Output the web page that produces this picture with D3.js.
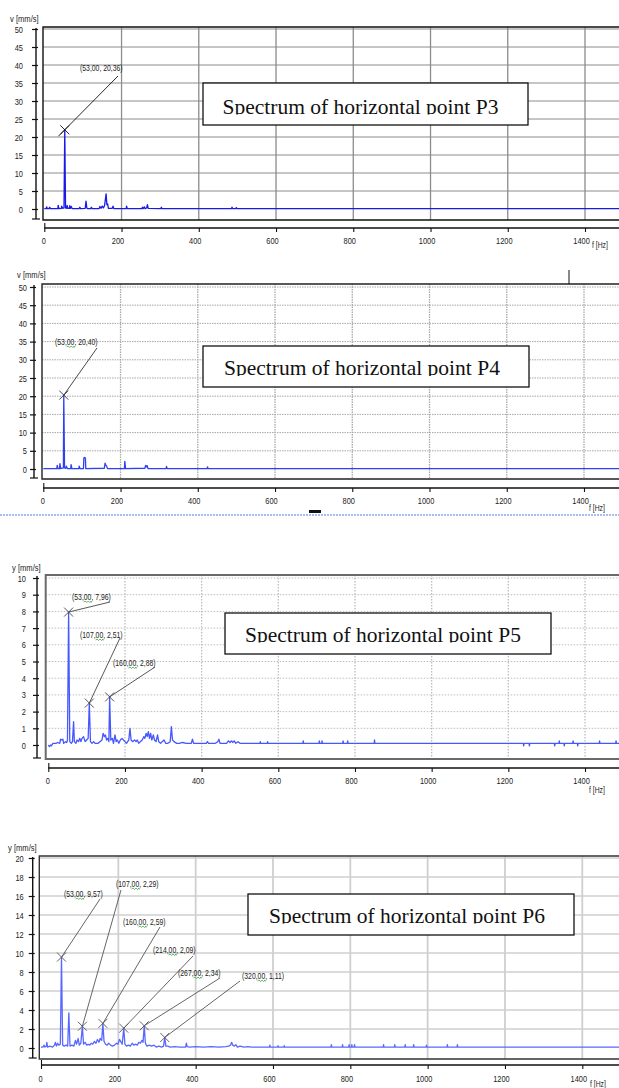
<!DOCTYPE html>
<html>
<head>
<meta charset="utf-8">
<script src="https://cdn.jsdelivr.net/npm/d3@7"></script>
<style>
  body { margin: 0; background: #fff; }
  svg { display: block; }
  .small { font-family: 'Liberation Sans Narrow', 'Liberation Sans', sans-serif; fill: #222; }
  .title { font-family: 'Liberation Serif', 'Times New Roman', serif; font-size: 21.5px; fill: #111; }
</style>
</head>
<body>
<script>
// ---- data ----
const xTicks = [0, 200, 400, 600, 800, 1000, 1200, 1400];
const yTicksP3 = [0, 5, 10, 15, 20, 25, 30, 35, 40, 45, 50];
const yTicksP4 = [0, 5, 10, 15, 20, 25, 30, 35, 40, 45, 50];
const yTicksP5 = [0, 1, 2, 3, 4, 5, 6, 7, 8, 9, 10];
const yTicksP6 = [0, 2, 4, 6, 8, 10, 12, 14, 16, 18, 20];

const titles = ["Spectrum of horizontal point P3", "Spectrum of horizontal point P4",
                "Spectrum of horizontal point P5", "Spectrum of horizontal point P6"];
const unitLabels = ["v [mm/s]", "v [mm/s]", "y [mm/s]", "y [mm/s]"];
const freqLabel = "f [Hz]";

// [frequency Hz, velocity mm/s]
const spectrumP3 = [[0,0.1],[5,0.1],[6,0.6],[8,0.1],[12,0.1],[14,0.5],[16,0.1],[35,0.1],[36,1.0],[38,0.1],
  [44,0.2],[45,0.8],[47,0.2],[51,0.3],[53,22],[55,0.3],[58,0.2],[59,1.0],[61,0.2],[65,0.2],[66,0.9],[68,0.2],
  [70,0.7],[72,0.1],[90,0.1],[92,0.5],[94,0.1],[106,0.2],[108,2.2],[110,0.3],[112,0.1],[120,0.1],[122,0.5],
  [124,0.1],[142,0.1],[144,0.7],[147,0.2],[150,0.8],[153,0.3],[156,0.9],[160,4.2],[162,1.2],[164,1.4],[166,0.2],
  [176,0.2],[178,0.8],[180,0.1],[212,0.1],[213,0.8],[215,0.1],[253,0.1],[254,0.5],[256,0.1],[259,0.6],[261,0.1],
  [265,0.3],[267,1.2],[269,0.2],[302,0.1],[303,0.5],[305,0.1],[485,0.1],[486,0.5],[488,0.1],[496,0.1],[497,0.4],
  [499,0.1],[1500,0.1]];

const spectrumP4 = [[0,0.1],[35,0.1],[36,1.0],[38,0.1],[42,0.1],[43,1.5],[45,0.1],[52,0.3],[53,20.3],[55,0.3],
  [58,0.2],[60,0.8],[62,0.1],[71,0.1],[72,1.2],[74,0.1],[92,0.1],[93,0.8],[95,0.1],[104,0.1],[105,3.0],[107,3.2],
  [109,3.0],[110,0.1],[158,0.2],[160,1.6],[162,1.0],[164,0.8],[166,0.1],[210,0.1],[211,2.1],[213,0.1],[263,0.2],
  [265,1.0],[267,0.6],[269,0.9],[271,0.1],[318,0.1],[319,0.7],[321,0.1],[424,0.1],[425,0.6],[427,0.1],[1500,0.1]];

const spectrumP5 = [[0,0.0],[3,-0.1],[6,0.0],[8,-0.05],[12,0.1],[20,0.1],[25,0.15],[30,0.1],[32,0.35],[35,0.3],
  [38,0.35],[40,0.1],[45,0.2],[48,0.15],[50,0.3],[53,7.96],[56,0.2],[60,0.1],[63,0.2],[66,1.4],[68,0.2],[72,0.1],
  [75,0.3],[79,0.2],[82,0.4],[85,0.2],[88,0.4],[92,0.5],[96,0.2],[100,0.3],[104,0.4],[107,2.51],[110,0.2],
  [114,0.1],[118,0.2],[122,0.1],[130,0.1],[140,0.3],[143,0.7],[146,0.5],[149,0.6],[152,0.3],[155,0.4],[158,0.2],
  [160,2.88],[163,0.3],[167,0.4],[170,0.1],[174,0.6],[177,0.2],[180,0.3],[184,0.1],[188,0.3],[192,0.4],[196,0.3],
  [200,0.2],[204,0.1],[210,0.3],[213,1.0],[216,0.3],[220,0.2],[225,0.3],[229,0.2],[232,0.3],[236,0.1],[240,0.2],
  [245,0.3],[249,0.5],[252,0.4],[255,0.7],[258,0.5],[261,0.8],[264,0.4],[267,0.7],[270,0.3],[274,0.6],[277,0.3],
  [281,0.2],[285,0.6],[288,0.2],[293,0.1],[297,0.2],[302,0.3],[306,0.1],[312,0.1],[318,0.2],[321,1.1],[324,0.3],
  [328,0.2],[335,0.1],[342,0.1],[350,0.15],[360,0.1],[368,0.1],[373,0.1],[376,0.35],[379,0.1],[395,0.1],
  [412,0.1],[415,0.2],[418,0.1],[436,0.1],[442,0.2],[445,0.35],[448,0.1],[465,0.1],[470,0.25],[474,0.15],
  [478,0.25],[481,0.15],[485,0.25],[489,0.1],[495,0.2],[500,0.1],[520,0.1],[540,0.1],[552,0.1],[553,0.2],
  [554,0.1],[571,0.1],[572,0.2],[573,0.1],[590,0.1],[664,0.1],[665,0.25],[666,0.1],[706,0.1],[707,0.25],
  [708,0.1],[713,0.1],[714,0.25],[715,0.1],[768,0.1],[769,0.25],[770,0.1],[780,0.1],[781,0.25],[782,0.1],
  [850,0.1],[851,0.3],[852,0.1],[1239,0.1],[1240,-0.05],[1241,0.1],[1254,0.1],[1255,-0.05],[1256,0.1],[1320,0.1],
  [1321,-0.05],[1322,0.1],[1332,0.1],[1333,0.25],[1334,0.1],[1345,0.1],[1346,-0.05],[1347,0.1],[1368,0.1],
  [1369,0.25],[1370,0.1],[1380,0.1],[1381,-0.05],[1382,0.1],[1437,0.1],[1438,0.25],[1439,0.1],[1480,0.1],
  [1481,0.25],[1482,0.1],[1500,0.1]];

const spectrumP6 = [[0,0.1],[5,0.1],[8,0.3],[10,0.1],[14,0.2],[15,0.6],[17,0.1],[23,0.2],[30,0.1],[35,0.3],
  [37,0.6],[40,0.2],[43,0.5],[46,0.3],[50,0.4],[53,9.57],[56,0.3],[60,0.2],[65,0.3],[69,0.2],[72,3.7],[75,0.2],
  [80,0.3],[85,0.2],[89,0.8],[92,0.4],[96,1.0],[99,0.3],[103,0.5],[107,2.29],[110,0.4],[114,0.6],[118,0.3],
  [122,0.4],[126,0.3],[130,0.5],[134,0.4],[138,0.7],[142,0.5],[146,0.9],[150,0.6],[153,1.0],[157,0.8],[160,2.59],
  [163,0.7],[167,0.4],[171,0.3],[175,0.5],[180,0.3],[185,0.2],[190,0.3],[195,0.5],[199,0.4],[203,0.9],[206,0.7],
  [210,0.4],[214,2.09],[217,0.4],[221,0.2],[226,0.3],[231,0.2],[236,0.5],[240,0.3],[245,0.4],[249,0.3],[253,0.6],
  [257,0.5],[261,0.8],[264,0.6],[267,2.34],[270,0.5],[274,0.2],[280,0.3],[286,0.2],[292,0.3],[298,0.1],[305,0.2],
  [312,0.1],[317,0.2],[320,1.11],[323,0.2],[328,0.2],[334,0.1],[345,0.15],[360,0.1],[374,0.1],
  [376,0.5],[378,0.15],[385,0.1],[400,0.15],[420,0.1],[440,0.15],[460,0.1],[478,0.15],[485,0.2],[490,0.3],
  [493,0.6],[496,0.3],[500,0.2],[504,0.35],[508,0.1],[515,0.2],[525,0.1],[535,0.15],[545,0.1],[560,0.1],
  [591,0.1],[592,0.3],[593,0.1],[612,0.1],[613,0.25],[614,0.1],[628,0.1],[629,0.25],[630,0.1],[750,0.1],
  [751,0.35],[752,0.1],[779,0.1],[780,0.35],[781,0.1],[796,0.1],[797,0.35],[798,0.1],[803,0.1],[804,0.35],
  [805,0.1],[810,0.1],[811,0.35],[812,0.1],[885,0.1],[886,0.35],[887,0.1],[914,0.1],[915,0.35],[916,0.1],
  [941,0.1],[942,0.35],[943,0.1],[963,0.1],[964,0.35],[965,0.1],[996,0.1],[997,0.3],[998,0.1],[1050,0.1],
  [1051,0.35],[1052,0.1],[1076,0.1],[1077,0.35],[1078,0.1],[1500,0.1]];

// marked peaks: [frequency, drawn amplitude, label]
const peaksP3 = [[53, 22, "(53,00, 20,36)"]];
const peaksP4 = [[53, 20.3, "(53,00, 20,40)"]];
const peaksP5 = [[53, 7.96, "(53,00, 7,96)"], [107, 2.51, "(107,00, 2,51)"], [160, 2.88, "(160,00, 2,88)"]];
const peaksP6 = [[53, 9.57, "(53,00, 9,57)"], [107, 2.29, "(107,00, 2,29)"], [160, 2.59, "(160,00, 2,59)"],
                 [214, 2.09, "(214,00, 2,09)"], [267, 2.34, "(267,00, 2,34)"], [320, 1.11, "(320,00, 1,11)"]];

// ---- layout of the four scanned panels ----
const panels = [
  { series: spectrumP3, peaks: peaksP3, yTicks: yTicksP3, yMax: 50,
    xRange: [44.3, 585], yRange: [209, 29], frame: { l: 43, t: 27, b: 220 }, yAxisX: 36, xAxisY: 228,
    yGap: 13, xLabelY: 243, unit: { x: 10, y: 22 }, hz: { x: 592, y: 248 },
    box: { x: 203, y: 83, w: 325, h: 42, tx: 222.5, ty: 113.5 },
    grid: { stroke: "#8c8c8c", width: 1, dash: null }, frameStyle: { stroke: "#111", width: 1.4 },
    line: "#1a1ae6", mark: "#111", notes: [{ tx: 80, ty: 71, ex: 118, ey: 76, tail: 9 }], squiggle: false },
  { series: spectrumP4, peaks: peaksP4, yTicks: yTicksP4, yMax: 50,
    xRange: [43.3, 584], yRange: [469, 287], frame: { l: 42, t: 284, b: 479 }, yAxisX: 34, xAxisY: 488,
    yGap: 7, xLabelY: 503, unit: { x: 17, y: 278 }, hz: { x: 589, y: 511 },
    box: { x: 203, y: 346, w: 326, h: 41, tx: 224, ty: 375 },
    grid: { stroke: "#a8a8a8", width: 1, dash: "1.5,1" }, frameStyle: { stroke: "#222", width: 1.4 },
    line: "#2f3ff2", mark: "#333", notes: [{ tx: 55, ty: 345, ex: 97, ey: 348, tail: 0 }], squiggle: true },
  { series: spectrumP5, peaks: peaksP5, yTicks: yTicksP5, yMax: 10,
    xRange: [48.3, 585], yRange: [745, 578], frame: { l: 45.7, t: 575, b: 759 }, yAxisX: 37, xAxisY: 768,
    yGap: 11, xLabelY: 783, unit: { x: 12, y: 571 }, hz: { x: 589, y: 793 },
    box: { x: 225, y: 613, w: 326, h: 41, tx: 245, ty: 641.5 },
    grid: { stroke: "#bdbdbd", width: 1, dash: "1.5,1.5" }, frameStyle: { stroke: "#6a6a6a", width: 2 },
    line: "#4657ff", mark: "#444",
    notes: [{ tx: 72, ty: 600, ex: 110, ey: 602, tail: 0 }, { tx: 80, ty: 638, ex: 120, ey: 638, tail: 0 },
            { tx: 113, ty: 666, ex: 155, ey: 667, tail: 0 }], squiggle: true },
  { series: spectrumP6, peaks: peaksP6, yTicks: yTicksP6, yMax: 20,
    xRange: [41, 582.3], yRange: [1048, 858], frame: { l: 39.3, t: 856, b: 1059 }, yAxisX: 32.7, xAxisY: 1065,
    yGap: 9, xLabelY: 1081, unit: { x: 8, y: 851 }, hz: { x: 590, y: 1086.5 },
    box: { x: 248, y: 894, w: 326, h: 41, tx: 269, ty: 922.5 },
    grid: { stroke: "#cfcfcf", width: 1.5, dash: null }, frameStyle: { stroke: "#333", width: 1.4 },
    line: "#5868ff", mark: "#555",
    notes: [{ tx: 64, ty: 897, ex: 100, ey: 899, tail: 0 }, { tx: 116, ty: 887, ex: 121, ey: 890, tail: 0 },
            { tx: 123, ty: 925, ex: 160, ey: 927, tail: 0 }, { tx: 153, ty: 953, ex: 193, ey: 956, tail: 0 },
            { tx: 178, ty: 976, ex: 220, ey: 978, tail: 0 }, { tx: 242, ty: 979, ex: 240, ey: 981, tail: 0 }],
    squiggle: true }
];

const W = 619, H = 1088;
const svg = d3.select("body").append("svg").attr("width", W).attr("height", H);

// the scans use a narrow sans; squeeze the text horizontally
function narrow(sel, k = 0.8) {
  sel.each(function () {
    const len = this.getComputedTextLength();
    d3.select(this).attr("textLength", len * k).attr("lengthAdjust", "spacingAndGlyphs");
  });
  return sel;
}

panels.forEach((p, idx) => {
  const g = svg.append("g");
  const x = d3.scaleLinear().domain([0, 1400]).range(p.xRange);
  const y = d3.scaleLinear().domain([0, p.yMax]).range(p.yRange);
  const f = p.frame;

  // grid
  g.selectAll(".hg").data(p.yTicks.filter(v => v > 0)).enter().append("line")
    .attr("x1", f.l).attr("x2", W).attr("y1", d => y(d)).attr("y2", d => y(d))
    .attr("stroke", p.grid.stroke).attr("stroke-width", p.grid.width)
    .attr("stroke-dasharray", p.grid.dash);
  g.selectAll(".vg").data(xTicks.filter(v => v > 0)).enter().append("line")
    .attr("x1", d => x(d)).attr("x2", d => x(d)).attr("y1", f.t).attr("y2", f.b)
    .attr("stroke", p.grid.stroke).attr("stroke-width", p.grid.width + 0.3)
    .attr("stroke-dasharray", p.grid.dash);

  // spectrum trace
  const clipId = "plot" + idx;
  g.append("clipPath").attr("id", clipId).append("rect")
    .attr("x", f.l).attr("y", f.t).attr("width", W - f.l).attr("height", f.b - f.t);
  g.append("path").datum(p.series)
    .attr("clip-path", `url(#${clipId})`)
    .attr("fill", "none").attr("stroke", p.line).attr("stroke-width", 1.3)
    .attr("stroke-linejoin", "round")
    .attr("d", d3.line().x(d => x(d[0])).y(d => y(d[1])));

  // plot frame (right side runs off the page)
  g.append("path")
    .attr("d", `M${W + 2},${f.t}H${f.l}V${f.b}H${W + 2}`)
    .attr("fill", "none").attr("stroke", p.frameStyle.stroke).attr("stroke-width", p.frameStyle.width);

  // y axis, detached to the left
  const ya = g.append("g").attr("transform", `translate(${p.yAxisX},0)`)
    .call(d3.axisLeft(y).tickValues(p.yTicks).tickSize(4).tickPadding(p.yGap - 4).tickFormat(d3.format("d")));
  ya.select(".domain").remove();
  ya.selectAll(".tick line").attr("x1", -4).attr("x2", 2).attr("stroke", "#111").attr("stroke-width", 1.2);
  narrow(ya.selectAll(".tick text").attr("class", "small").style("font-size", "9.5px"), 0.78);
  g.append("line").attr("x1", p.yAxisX).attr("x2", p.yAxisX).attr("y1", f.t + 1).attr("y2", f.b - 1)
    .attr("stroke", "#111").attr("stroke-width", 1.4);
  g.append("line").attr("x1", p.yAxisX - 4).attr("x2", p.yAxisX + 4).attr("y1", f.b - 1).attr("y2", f.b - 1)
    .attr("stroke", "#111").attr("stroke-width", 1.2);

  // x axis, detached below; labels sit a little left of their ticks in the scans
  const xa = g.append("g").attr("transform", `translate(0,${p.xAxisY})`)
    .call(d3.axisBottom(x).tickValues(xTicks).tickSize(4).tickPadding(p.xLabelY - p.xAxisY - 10)
      .tickFormat(d3.format("d")));
  xa.select(".domain").remove();
  xa.selectAll(".tick line").attr("stroke", "#111").attr("stroke-width", 1.1)
    .attr("y1", d => d === 0 ? -5 : 0);
  narrow(xa.selectAll(".tick text").attr("class", "small").style("font-size", "9.5px")
    .attr("dx", d => d === 0 ? -1 : -4), 0.78);
  g.append("line").attr("x1", x(0)).attr("x2", W).attr("y1", p.xAxisY).attr("y2", p.xAxisY)
    .attr("stroke", "#111").attr("stroke-width", 1.4);

  // axis captions
  narrow(g.append("text").attr("class", "small").attr("x", p.unit.x).attr("y", p.unit.y)
    .style("font-size", "9.5px").text(unitLabels[idx]));
  narrow(g.append("text").attr("class", "small").attr("x", p.hz.x).attr("y", p.hz.y)
    .style("font-size", "8.5px").text(freqLabel));

  // peak markers with leader lines and labels
  p.peaks.forEach((pk, i) => {
    const n = p.notes[i];
    const px = x(pk[0]), py = y(pk[1]);
    const dx = n.ex - px, dy = n.ey - py, len = Math.hypot(dx, dy);
    g.append("line")
      .attr("x1", px - dx / len * n.tail).attr("y1", py - dy / len * n.tail)
      .attr("x2", n.ex).attr("y2", n.ey)
      .attr("stroke", p.mark).attr("stroke-width", 0.9);
    g.append("path")
      .attr("d", `M${px - 4.5},${py - 4.5}L${px + 4.5},${py + 4.5}M${px - 4.5},${py + 4.5}L${px + 4.5},${py - 4.5}`)
      .attr("stroke", p.mark).attr("stroke-width", 0.9);
    const t = narrow(g.append("text").attr("class", "small").attr("x", n.tx).attr("y", n.ty)
      .style("font-size", "9px").text(pk[2]), 0.76);
    if (p.squiggle) {
      const node = t.node();
      const k = pk[2].indexOf(",") + 1;
      const a = node.getStartPositionOfChar(k).x, b = node.getEndPositionOfChar(k + 1).x;
      let d = `M${a},${n.ty + 2}`;
      for (let s = a, up = true; s < b; s += 1.5, up = !up) d += `L${Math.min(s + 1.5, b)},${n.ty + (up ? 1 : 2.5)}`;
      g.append("path").attr("d", d).attr("fill", "none").attr("stroke", "#3aa040").attr("stroke-width", 0.8);
    }
  });

  // caption box, text cut at its baseline as in the scan
  const b = p.box;
  g.append("rect").attr("x", b.x).attr("y", b.y).attr("width", b.w).attr("height", b.h)
    .attr("fill", "#fff").attr("stroke", "#111").attr("stroke-width", 1.3);
  const tClip = "title" + idx;
  g.append("clipPath").attr("id", tClip).append("rect")
    .attr("x", b.x).attr("y", b.y).attr("width", b.w).attr("height", b.ty + 1 - b.y);
  g.append("text").attr("class", "title").attr("clip-path", `url(#${tClip})`)
    .attr("x", b.tx).attr("y", b.ty).text(titles[idx]);
});

// stray marks left on the P4 scan
svg.append("line").attr("x1", 569).attr("x2", 569).attr("y1", 270).attr("y2", 284)
  .attr("stroke", "#111").attr("stroke-width", 1);
svg.append("line").attr("x1", 0).attr("x2", W).attr("y1", 515).attr("y2", 515)
  .attr("stroke", "#4f7fd6").attr("stroke-width", 1).attr("stroke-dasharray", "2,1");
svg.append("rect").attr("x", 309).attr("y", 510).attr("width", 12).attr("height", 3).attr("fill", "#111");
</script>
</body>
</html>
